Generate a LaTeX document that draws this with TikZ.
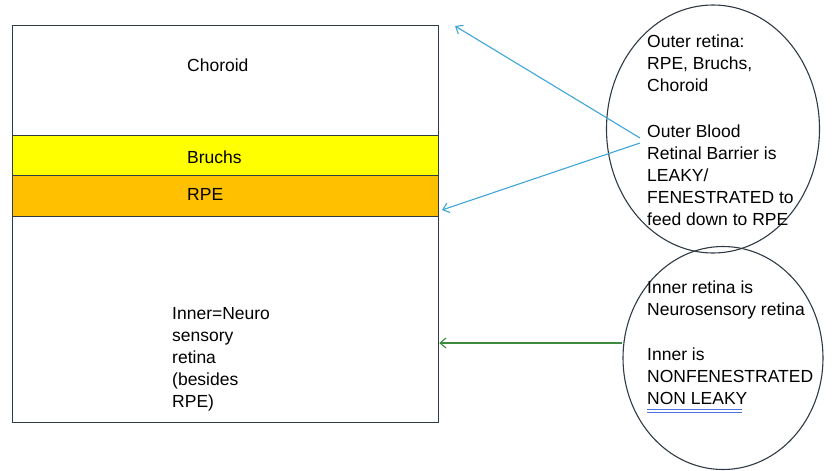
\documentclass[tikz,border=0pt]{standalone}
\usepackage{fontspec}
\setmainfont{Liberation Sans}
\usetikzlibrary{arrows.meta,shapes.geometric}
\definecolor{edgeGray}{HTML}{2E3A44}
\definecolor{bruchsYellow}{HTML}{FFFF00}
\definecolor{rpeOrange}{HTML}{FFC000}
\definecolor{arrowBlue}{HTML}{3DA5DA}
\definecolor{arrowGreen}{HTML}{3C8A3C}
\definecolor{ulBlue}{HTML}{4F74E0}

\begin{document}
\begin{tikzpicture}[x=1pt,y=-1pt,
    every node/.append style={inner sep=0pt},
    layer/.style={draw=edgeGray,line width=1.2pt,minimum width=426pt,anchor=north west},
    txt/.style={font=\fontsize{17.5}{22}\selectfont,align=left},
    oval/.style={draw=edgeGray,line width=1.1pt,ellipse},
    bluearr/.style={arrowBlue,line width=1.1pt,-{Straight Barb[length=6pt,width=10pt]}},
    greenarr/.style={arrowGreen,line width=1.1pt,-{Straight Barb[length=6pt,width=10pt]}}]
  \useasboundingbox (0,0) rectangle (833,471);

  % the layers, top to bottom
  \node[layer,minimum height=110pt] (choroid) at (12,25) {};
  \node[layer,minimum height=40pt,fill=bruchsYellow] (bruchs) at (12,135) {};
  \node[layer,minimum height=41pt,fill=rpeOrange] (rpe) at (12,175) {};
  \node[layer,minimum height=206pt] (neuro) at (12,216) {};

  \node[txt,anchor=west] (choroidTxt) at (187,65) {Choroid};
  \node[txt,anchor=west] (bruchsTxt) at (187,157) {Bruchs};
  \node[txt,anchor=west] (rpeTxt) at (187,194) {RPE};
  \node[txt,anchor=north west] (neuroTxt) at (172,307)
    {Inner=Neuro\\sensory\\retina\\(besides\\RPE)};

  % the two notes
  \node[oval,minimum width=213pt,minimum height=248pt] (outerOval) at (713,129) {};
  \node[oval,minimum width=200pt,minimum height=223pt] (innerOval) at (723,358) {};

  \node[txt,anchor=north west] (outerTxt) at (647,35)
    {Outer retina:\\RPE, Bruchs,\\Choroid\\[24pt]Outer Blood\\Retinal Barrier is\\LEAKY/\\FENESTRATED to\\feed down to RPE};
  \node[txt,anchor=north west] (innerTxt) at (647,281)
    {Inner retina is\\Neurosensory retina\\[23pt]Inner is\\NONFENESTRATED\\NON LEAKY};
  \draw[ulBlue,line width=0.8pt] ([yshift=-4.5pt]innerTxt.south west) -- +(95,0);
  \draw[ulBlue,line width=0.8pt] ([yshift=-7pt]innerTxt.south west) -- +(95,0);

  % arrows
  \coordinate (outerFrom) at (640,138);
  \coordinate (outerFrom2) at (640,143);
  \coordinate (choroidTip) at (455,26);
  \coordinate (rpeTip) at (442,210);
  \draw[bluearr] (outerFrom) -- (choroidTip);
  \draw[bluearr] (outerFrom2) -- (rpeTip);
  \draw[greenarr] (innerOval.west |- 0,343) -- (neuro.east |- 0,343);
\end{tikzpicture}
\end{document}
